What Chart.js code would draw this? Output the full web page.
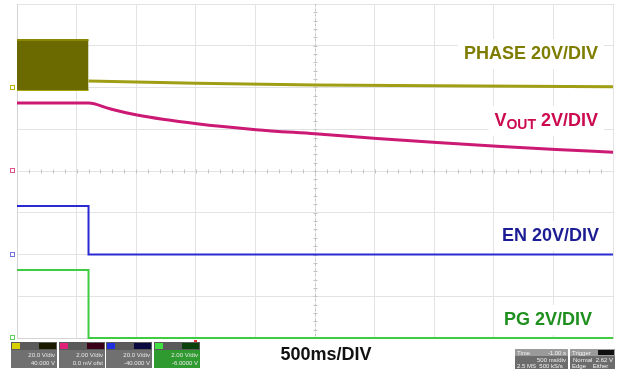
<!DOCTYPE html>
<html>
<head>
<meta charset="utf-8">
<script src="https://cdn.jsdelivr.net/npm/chart.js@4"></script>
<style>
  html, body { margin: 0; padding: 0; background: #fff; }
  #wrap { width: 623px; height: 373px; }
</style>
</head>
<body>
<div id="wrap"><canvas id="scope" width="623" height="373"></canvas></div>
<script>
// time in ms, values in volts
const phaseBlockT = [0, 600];
const phaseBlockHigh = [22.8, 22.8];
const phaseBlockLow = [-1.2, -1.2];
const phaseT = [600, 1500, 2500, 3500, 5000];
const phaseV = [3.1, 2.0, 1.2, 0.8, 0.4];
const voutT = [0, 600, 780, 1007, 1510, 2005, 2500, 3020, 3523, 4027, 4522, 5000];
const voutV = [3.26, 3.26, 2.98, 2.68, 2.26, 1.98, 1.78, 1.56, 1.36, 1.18, 1.03, 0.9];
const enT = [0, 600, 600, 5000];
const enV = [23.2, 23.2, 0, 0];
const pgT = [0, 600, 600, 5000];
const pgV = [3.26, 3.26, 0, 0];

// scope channel setup: ground position (div) and volts per div
const chPhase = { offset: 6, perDiv: 20 };
const chVout = { offset: 4, perDiv: 2 };
const chEn = { offset: 2, perDiv: 20 };
const chPg = { offset: 0, perDiv: 2 };

function toPoints(ts, vs, ch) {
  return ts.map((t, i) => ({ x: t, y: ch.offset + vs[i] / ch.perDiv }));
}

const FONT = '"Liberation Sans", Arial, sans-serif';

// minor ticks on the centre lines, drawn under the traces
const gridExtras = {
  id: 'gridExtras',
  beforeDatasetsDraw(chart) {
    const { ctx, chartArea: a, scales: { x, y } } = chart;
    ctx.save();
    ctx.strokeStyle = '#c4c4c4';
    ctx.lineWidth = 1;
    const cx = Math.round(x.getPixelForValue(2500)) + 0.5;
    const cy = Math.round(y.getPixelForValue(4)) + 0.5;
    ctx.setLineDash([2, 3]);
    ctx.beginPath();
    ctx.moveTo(cx, a.top); ctx.lineTo(cx, a.bottom);
    ctx.stroke();
    ctx.setLineDash([]);
    ctx.beginPath();
    for (let t = 100; t < 5000; t += 100) {
      const px = Math.round(x.getPixelForValue(t)) + 0.5;
      ctx.moveTo(px, cy - 2); ctx.lineTo(px, cy + 2);
    }
    for (let d = 0.2; d < 8; d += 0.2) {
      const py = Math.round(y.getPixelForValue(d)) + 0.5;
      ctx.moveTo(cx - 2, py); ctx.lineTo(cx + 2, py);
    }
    ctx.stroke();
    ctx.restore();
  }
};

function box(ctx, x, y, w, h, fill) {
  ctx.fillStyle = fill;
  ctx.fillRect(x, y, w, h);
}

function label(ctx, parts, right, cy, color) {
  let w = 0;
  parts.forEach(p => { ctx.font = 'bold ' + p.size + 'px ' + FONT; w += ctx.measureText(p.text).width; });
  ctx.fillStyle = '#fff';
  ctx.fillRect(right - w - 6, cy - 15, w + 12, 30);
  let xx = right - w;
  ctx.fillStyle = color;
  ctx.textBaseline = 'middle';
  ctx.textAlign = 'left';
  parts.forEach(p => {
    ctx.font = 'bold ' + p.size + 'px ' + FONT;
    ctx.fillText(p.text, xx, cy + (p.dy || 0));
    xx += ctx.measureText(p.text).width;
  });
}

const overlay = {
  id: 'overlay',
  afterDatasetsDraw(chart) {
    const { ctx, scales: { x, y } } = chart;
    ctx.save();

    // trace labels
    label(ctx, [{ text: 'PHASE 20V/DIV', size: 18 }], 598, 54, '#7f7d00');
    label(ctx, [{ text: 'V', size: 18 }, { text: 'OUT', size: 14, dy: 4 }, { text: ' 2V/DIV', size: 18 }], 598, 121, '#cc0a50');
    label(ctx, [{ text: 'EN 20V/DIV', size: 18 }], 599, 236, '#1c1c94');
    label(ctx, [{ text: 'PG 2V/DIV', size: 18 }], 592, 320, '#1f8f1f');

    // ground markers on the left edge
    const marks = [[chPhase, '#b8b400'], [chVout, '#e0508a'], [chEn, '#7070e0'], [chPg, '#60d060']];
    marks.forEach(([ch, c]) => {
      const py = Math.round(y.getPixelForValue(ch.offset));
      ctx.strokeStyle = c;
      ctx.lineWidth = 1;
      ctx.strokeRect(10.5, py - 2.5, 4, 4);
    });

    // time base text
    ctx.fillStyle = '#111';
    ctx.font = 'bold 18px ' + FONT;
    ctx.textAlign = 'center';
    ctx.textBaseline = 'middle';
    ctx.fillText('500ms/DIV', 326, 355);

    // trigger mark
    ctx.fillStyle = '#e03030';
    ctx.fillRect(194, 340, 3, 3);

    // channel readout boxes
    const chBoxes = [
      { x: 11, chip: '#d8d000', dark: '#1a1a00', l1: '20.0 V/div', l2: '40.000 V', bg: '#707070' },
      { x: 59, chip: '#e0207a', dark: '#3a0018', l1: '2.00 V/div', l2: '0.0 mV ofst', bg: '#707070' },
      { x: 106, chip: '#2030e0', dark: '#0a0a40', l1: '20.0 V/div', l2: '-40.000 V', bg: '#707070' },
      { x: 154, chip: '#40e040', dark: '#0a400a', l1: '2.00 V/div', l2: '-6.0000 V', bg: '#2f9a2f' }
    ];
    chBoxes.forEach(b => {
      box(ctx, b.x, 342, 46, 26, b.bg);
      box(ctx, b.x, 342, 46, 8, '#5a5a5a');
      box(ctx, b.x + 1, 343, 8, 6, b.chip);
      box(ctx, b.x + 28, 343, 17, 6, b.dark);
      ctx.fillStyle = '#e8e8e8';
      ctx.font = '6px ' + FONT;
      ctx.textAlign = 'right';
      ctx.fillText(b.l1, b.x + 44, 355);
      ctx.fillText(b.l2, b.x + 44, 363);
    });

    // time / trigger boxes
    [[515, 'Time', '-1.00 s', '500 ms/div', '2.5 MS  500 kS/s', 53], [570, 'Trigger', '', 'Normal  2.62 V', 'Edge    Either', 45]].forEach(([bx, t, v, l1, l2, w]) => {
      box(ctx, bx, 349, w, 20, '#6c6c6c');
      box(ctx, bx, 349, w, 7, '#9a9a9a');
      ctx.fillStyle = '#f0f0f0';
      ctx.font = '6px ' + FONT;
      ctx.textAlign = 'left';
      ctx.fillText(t, bx + 2, 353);
      ctx.fillText(l2, bx + 2, 366);
      ctx.textAlign = 'right';
      if (v) ctx.fillText(v, bx + w - 2, 353);
      else box(ctx, bx + w - 17, 350, 16, 5, '#111');
      ctx.fillStyle = '#f0f0f0';
      ctx.fillText(l1, bx + w - 2, 360);
    });

    ctx.restore();
  }
};

new Chart(document.getElementById('scope'), {
  type: 'line',
  data: {
    datasets: [
      {
        label: 'PHASE switching',
        data: toPoints(phaseBlockT, phaseBlockHigh, chPhase),
        borderColor: '#8a8800',
        backgroundColor: '#6b6a00',
        borderWidth: 2,
        fill: { value: chPhase.offset + phaseBlockLow[0] / chPhase.perDiv }
      },
      {
        label: 'PHASE low edge',
        data: toPoints(phaseBlockT, phaseBlockLow, chPhase),
        borderColor: '#a8a610',
        borderWidth: 2
      },
      {
        label: 'PHASE',
        data: toPoints(phaseT, phaseV, chPhase),
        borderColor: '#a09e14',
        borderWidth: 3
      },
      {
        label: 'VOUT',
        data: toPoints(voutT, voutV, chVout),
        borderColor: '#cc1a74',
        borderWidth: 3,
        cubicInterpolationMode: 'monotone'
      },
      {
        label: 'EN',
        data: toPoints(enT, enV, chEn),
        borderColor: '#2a2ad4',
        borderWidth: 2
      },
      {
        label: 'PG',
        data: toPoints(pgT, pgV, chPg),
        borderColor: '#40cc40',
        borderWidth: 2
      }
    ]
  },
  options: {
    responsive: false,
    animation: false,
    devicePixelRatio: 1,
    layout: { padding: { left: 17, right: 10, top: 4, bottom: 35 } },
    elements: { point: { radius: 0 }, line: { tension: 0 } },
    datasets: { line: { clip: 4 } },
    plugins: { legend: { display: false }, tooltip: { enabled: false } },
    scales: {
      x: {
        type: 'linear', min: 0, max: 5000,
        ticks: { display: false, stepSize: 500 },
        grid: { color: '#e3e3e3', drawTicks: false },
        border: { color: '#d4d4d4' }
      },
      y: {
        min: 0, max: 8,
        ticks: { display: false, stepSize: 1 },
        grid: { color: '#e3e3e3', drawTicks: false },
        border: { color: '#d4d4d4' }
      }
    }
  },
  plugins: [gridExtras, overlay]
});
</script>
</body>
</html>
